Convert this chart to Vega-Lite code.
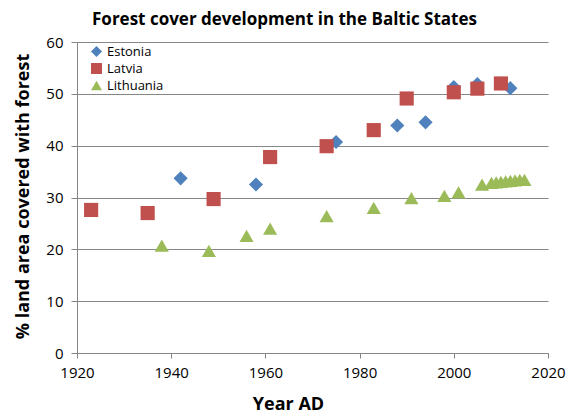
{
  "$schema": "https://vega.github.io/schema/vega-lite/v6.json",
  "width": 471,
  "height": 311,
  "autosize": {"type": "none"},
  "padding": {"left": 77, "top": 42, "right": 21, "bottom": 61},
  "background": "white",
  "title": {
    "text": "Forest cover development in the Baltic States",
    "font": "Open Sans",
    "fontSize": 17,
    "fontWeight": "bold",
    "color": "#000000",
    "anchor": "middle",
    "frame": "group",
    "dx": -28,
    "offset": 6
  },
  "config": {
    "view": {"stroke": null},
    "font": "Open Sans"
  },
  "data": {
    "values": [
      {"country": "Estonia", "year": 1942, "forest": 33.7},
      {"country": "Estonia", "year": 1958, "forest": 32.5},
      {"country": "Estonia", "year": 1975, "forest": 40.7},
      {"country": "Estonia", "year": 1988, "forest": 43.9},
      {"country": "Estonia", "year": 1994, "forest": 44.5},
      {"country": "Estonia", "year": 2000, "forest": 51.3},
      {"country": "Estonia", "year": 2005, "forest": 51.9},
      {"country": "Estonia", "year": 2012, "forest": 51.1},
      {"country": "Latvia", "year": 1923, "forest": 27.6},
      {"country": "Latvia", "year": 1935, "forest": 27.0},
      {"country": "Latvia", "year": 1949, "forest": 29.7},
      {"country": "Latvia", "year": 1961, "forest": 37.8},
      {"country": "Latvia", "year": 1973, "forest": 39.9},
      {"country": "Latvia", "year": 1983, "forest": 43.0},
      {"country": "Latvia", "year": 1990, "forest": 49.1},
      {"country": "Latvia", "year": 2000, "forest": 50.3},
      {"country": "Latvia", "year": 2005, "forest": 51.0},
      {"country": "Latvia", "year": 2010, "forest": 52.0},
      {"country": "Lithuania", "year": 1938, "forest": 20.7},
      {"country": "Lithuania", "year": 1948, "forest": 19.7},
      {"country": "Lithuania", "year": 1956, "forest": 22.6},
      {"country": "Lithuania", "year": 1961, "forest": 24.0},
      {"country": "Lithuania", "year": 1973, "forest": 26.4},
      {"country": "Lithuania", "year": 1983, "forest": 28.0},
      {"country": "Lithuania", "year": 1991, "forest": 29.9},
      {"country": "Lithuania", "year": 1998, "forest": 30.3},
      {"country": "Lithuania", "year": 2001, "forest": 31.0},
      {"country": "Lithuania", "year": 2006, "forest": 32.5},
      {"country": "Lithuania", "year": 2008, "forest": 32.8},
      {"country": "Lithuania", "year": 2009, "forest": 32.9},
      {"country": "Lithuania", "year": 2010, "forest": 33.0},
      {"country": "Lithuania", "year": 2011, "forest": 33.1},
      {"country": "Lithuania", "year": 2012, "forest": 33.2},
      {"country": "Lithuania", "year": 2013, "forest": 33.3},
      {"country": "Lithuania", "year": 2014, "forest": 33.4},
      {"country": "Lithuania", "year": 2015, "forest": 33.4}
    ]
  },
  "mark": {"type": "point", "filled": true, "opacity": 1, "size": 200},
  "encoding": {
    "x": {
      "field": "year",
      "type": "quantitative",
      "scale": {"domain": [1920, 2020], "nice": false, "zero": false},
      "axis": {
        "title": "Year AD",
        "values": [1920, 1940, 1960, 1980, 2000, 2020],
        "format": "d",
        "grid": false,
        "labelFlush": false,
        "domainColor": "#868686",
        "tickColor": "#868686",
        "tickSize": 5,
        "labelFont": "Open Sans",
        "labelFontSize": 15,
        "labelColor": "#000000",
        "labelPadding": 7,
        "titleFont": "Open Sans",
        "titleFontSize": 18,
        "titleFontWeight": "bold",
        "titleColor": "#000000",
        "titleX": 211,
        "titleY": 56,
        "titleBaseline": "alphabetic"
      }
    },
    "y": {
      "field": "forest",
      "type": "quantitative",
      "scale": {"domain": [0, 60], "nice": false},
      "axis": {
        "title": "% land area covered with forest",
        "values": [0, 10, 20, 30, 40, 50, 60],
        "grid": true,
        "labelFlush": false,
        "gridColor": "#868686",
        "gridWidth": 1,
        "domainColor": "#868686",
        "tickColor": "#868686",
        "tickSize": 6,
        "labelFont": "Open Sans",
        "labelFontSize": 15,
        "labelColor": "#000000",
        "labelPadding": 8,
        "titleFont": "Open Sans",
        "titleFontSize": 18,
        "titleFontWeight": "bold",
        "titleColor": "#000000",
        "titleX": -54,
        "titleY": 154,
        "titleAngle": -90,
        "titleAlign": "center",
        "titleBaseline": "middle"
      }
    },
    "color": {
      "field": "country",
      "type": "nominal",
      "scale": {"domain": ["Estonia", "Latvia", "Lithuania"], "range": ["#4F81BD", "#C0504D", "#9BBB59"]},
      "legend": {
        "title": null,
        "orient": "none",
        "legendX": 13,
        "legendY": 3,
        "labelFont": "Open Sans",
        "labelFontSize": 13,
        "labelColor": "#000000",
        "symbolSize": 120,
        "rowPadding": 3,
        "labelOffset": 4
      }
    },
    "shape": {
      "field": "country",
      "type": "nominal",
      "scale": {"domain": ["Estonia", "Latvia", "Lithuania"], "range": ["diamond", "square", "triangle-up"]}
    }
  }
}
